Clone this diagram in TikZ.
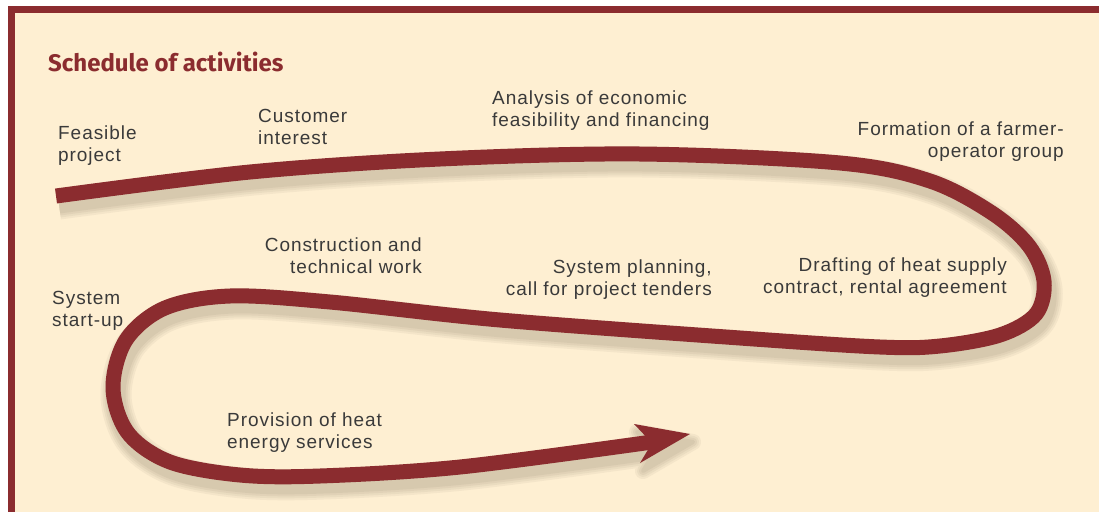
\documentclass[tikz,border=0pt]{standalone}
\usepackage{fontspec}
\setmainfont{Liberation Sans}[LetterSpace=5]
\newfontfamily\titlefont{Fira Sans}
\definecolor{wine}{HTML}{8B2C2F}
\definecolor{cream}{HTML}{FEEFD2}
\definecolor{ink}{HTML}{3A3A3A}
\definecolor{shadowc}{HTML}{9C8F78}
\tikzset{
  ribbonline/.style={insert path={plot[smooth,tension=0.55] coordinates {
    (56,196) (250,172) (440,159) (640,154) (840,163) (930,181) (992,213)
    (1029,246) (1044,281) (1036,314) (1000,335) (940,346) (880,347)
    (740,338) (500,320) (330,302) (230,296) (165,308) (126,340)
    (113,388) (128,433) (170,462) (240,475) (320,476)
    (460,467) (652,442)}}},
  headline/.style={insert path={(690,434) -- (634,424) -- (652,443) -- (640,463) -- cycle}},
  ribbon/.style={draw=wine, line width=15pt, line cap=butt, line join=round},
  lbl/.style={font=\fontsize{19}{22}\selectfont, text=ink, inner sep=0pt},
}
\begin{document}
\begin{tikzpicture}[x=1pt,y=-1pt]
\useasboundingbox (0,0) rectangle (1099,512);
\clip (0,0) rectangle (1099,512);
\fill[white] (0,0) rectangle (1099,512);
\fill[wine] (8,6) rectangle (1099,512);
\fill[cream] (15,13) rectangle (1099,512);
% shadow
\foreach \w/\m in {31/90,27/80,23/70,19/60}{
  \draw[draw=cream!\m!shadowc, line width=\w pt, line cap=butt, line join=round, shift={(3,8)}, ribbonline];
  \pgfmathsetmacro{\hw}{\w-15}
  \filldraw[draw=cream!\m!shadowc, fill=cream!\m!shadowc, line width=\hw pt, line join=round, shift={(3,8)}, headline];
}
% ribbon
\draw[ribbon, ribbonline];
\fill[wine, headline];
% title
\node[anchor=base west, inner sep=0pt, font=\titlefont\bfseries\fontsize{24}{27}\selectfont, text=wine] (title) at (48,71) {Schedule of activities};
% labels
\node[lbl, anchor=north west, align=left] (feas) at (58,126) {Feasible\\project};
\node[lbl, anchor=north west, align=left] (cust) at (258,109) {Customer\\interest};
\node[lbl, anchor=north west, align=left] (anal) at (492,91) {Analysis of economic\\feasibility and financing};
\node[lbl, anchor=north east, align=right] (form) at (1064,122) {Formation of a farmer-\\operator group};
\node[lbl, anchor=north east, align=right] (draft) at (1007,258) {Drafting of heat supply\\contract, rental agreement};
\node[lbl, anchor=north east, align=right] (plan) at (712,260) {System planning,\\call for project tenders};
\node[lbl, anchor=north east, align=right] (cons) at (422,238) {Construction and\\technical work};
\node[lbl, anchor=north west, align=left] (start) at (52,291) {System\\start-up};
\node[lbl, anchor=north west, align=left] (prov) at (227,413) {Provision of heat\\energy services};
\end{tikzpicture}
\end{document}
